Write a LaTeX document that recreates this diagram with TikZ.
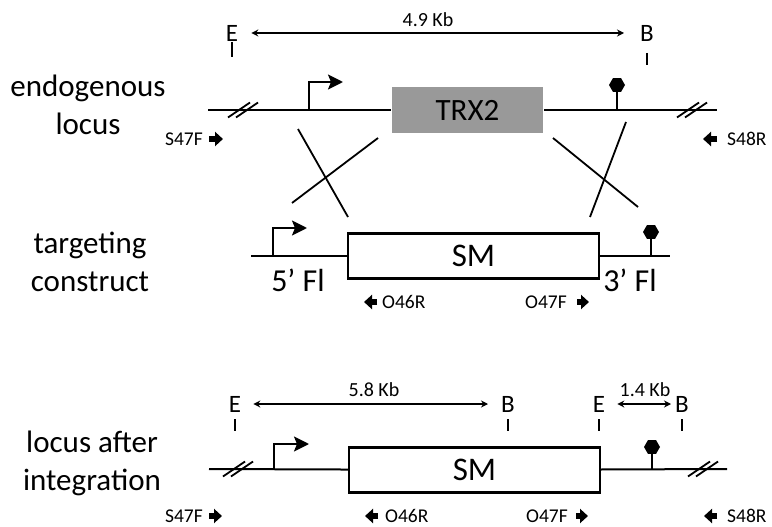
\documentclass[tikz,border=0pt]{standalone}
\usepackage{fontspec}
\setmainfont{Carlito}
\usetikzlibrary{arrows.meta, positioning, shapes.geometric}

\tikzset{
    dna/.style={line width=2pt},
    gene/.style={draw, line width=2.2pt, fill=white, inner sep=0pt,
        minimum width=251pt, minimum height=45pt, font=\fontsize{33}{33}\selectfont},
    promoter/.style={line width=2pt, -{Stealth[length=15pt, width=15pt, inset=3pt]}},
    term/.style={regular polygon, regular polygon sides=6, fill, inner sep=0pt, minimum size=16pt},
    site/.style={font=\fontsize{25}{25}\selectfont, inner sep=0pt},
    cut/.style={line width=1.6pt},
    span/.style={line width=1.3pt, {Stealth[length=7pt, width=7pt]}-{Stealth[length=7pt, width=7pt]}},
    kb/.style={font=\fontsize{20}{20}\selectfont, inner sep=0pt},
    primer/.style={line width=6pt, -{Triangle[length=8pt, width=14pt]}},
    primername/.style={font=\fontsize{19.5}{19.5}\selectfont, inner sep=0pt},
    flank/.style={font=\fontsize{32}{32}\selectfont, inner sep=0pt},
    tag/.style={font=\fontsize{31}{38}\selectfont, align=center, inner sep=0pt},
    swap/.style={line width=1.8pt},
    brk/.style={line width=1.8pt}
}

\begin{document}
\begin{tikzpicture}[x=1pt, y=-1pt]
    \useasboundingbox (0,0) rectangle (772,527);

    % row labels
    \node[tag] (endo) at (88,105) {endogenous\\locus};
    \node[tag] (targ) at (90,262) {targeting\\construct};
    \node[tag] (integ) at (92,463) {locus after\\integration};

    % endogenous locus
    \node[gene, fill=black!40, draw=none, minimum width=151pt, minimum height=46pt,
        font=\fontsize{31}{31}\selectfont] (trx) at (467.5,110) {TRX2};
    \coordinate (l1) at (208,110);
    \coordinate (r1) at (717,110);
    \draw[dna] (l1) -- (trx) -- (r1);
    \draw[promoter] (309,110) |- ++(34,-28);
    \node[term] (t1) at (617,85) {};
    \draw[dna] (617,110) -- (t1);

    \node[site] (e1) at (232,33) {E};
    \node[site] (b1) at (647,33) {B};
    \draw[cut] (232,42) -- (232,57);
    \draw[cut] (647,53) -- (647,65);
    \draw[span, shorten <=13pt, shorten >=16pt] (e1.east) -- (b1.west);
    \node[kb] (kb1) at (428,20) {4.9 Kb};

    \coordinate (s47f1) at (209,139);
    \coordinate (s48r1) at (717,139);
    \draw[primer] (s47f1) -- ++(14,0);
    \draw[primer] (s48r1) -- ++(-14,0);
    \node[primername] (s47fn1) [left=6pt of s47f1] {S47F};
    \node[primername] (s48rn1) [right=10pt of s48r1] {S48R};

    % crossing over
    \draw[swap] (298,129) -- (348,217);
    \draw[swap] (378,138) -- (292,203);
    \draw[swap] (553,138) -- (638,207);
    \draw[swap] (626,122) -- (590,217);

    % targeting construct
    \node[gene] (sm1) at (473.5,256) {SM};
    \coordinate (l2) at (251,256);
    \coordinate (r2) at (670,256);
    \draw[dna] (l2) -- (sm1) -- (r2);
    \draw[promoter] (273,256) |- ++(34,-28);
    \node[term] (t2) at (651,232) {};
    \draw[dna] (651,256) -- (t2);
    \node[flank] (fl5) at (298,280) {5’ Fl};
    \node[flank] (fl3) at (630,280) {3’ Fl};

    \coordinate (o46r1) at (377,302);
    \coordinate (o47f1) at (577,302);
    \draw[primer] (o46r1) -- ++(-13,0);
    \draw[primer] (o47f1) -- ++(12,0);
    \node[primername] (o46rn1) [right=5pt of o46r1] {O46R};
    \node[primername] (o47fn1) [left=10pt of o47f1] {O47F};

    % locus after integration
    \node[gene] (sm2) at (474.5,470) {SM};
    \coordinate (l3) at (209,469);
    \coordinate (r3) at (727,469);
    \draw[dna] (l3) -- (sm2) -- (r3);
    \draw[promoter] (274,469) |- ++(35,-25);
    \node[term] (t3) at (652,447) {};
    \draw[dna] (652,469) -- (t3);

    \node[site] (e3a) at (235,404) {E};
    \node[site] (b3a) at (508,404) {B};
    \node[site] (e3b) at (599,404) {E};
    \node[site] (b3b) at (682,404) {B};
    \foreach \x in {235,508,599,682}
        \draw[cut] (\x,419) -- (\x,431);
    \draw[span, shorten <=12pt, shorten >=13pt] (e3a.east) -- (b3a.west);
    \draw[span, shorten <=12pt, shorten >=4pt] (e3b.east) -- (b3b.west);
    \node[kb] (kb3a) at (374,390) {5.8 Kb};
    \node[kb] (kb3b) at (645,390) {1.4 Kb};

    \coordinate (s47f3) at (209,516);
    \coordinate (o46r3) at (378,516);
    \coordinate (o47f3) at (576,516);
    \coordinate (s48r3) at (717,516);
    \draw[primer] (s47f3) -- ++(13,0);
    \draw[primer] (o46r3) -- ++(-13,0);
    \draw[primer] (o47f3) -- ++(12,0);
    \draw[primer] (s48r3) -- ++(-13,0);
    \node[primername] (s47fn3) [left=6pt of s47f3] {S47F};
    \node[primername] (o46rn3) [right=7pt of o46r3] {O46R};
    \node[primername] (o47fn3) [left=8pt of o47f3] {O47F};
    \node[primername] (s48rn3) [right=10pt of s48r3] {S48R};

    % breaks
    \foreach \x/\y in {243/110, 692/110, 238/469, 703/469}
        \draw[brk] (\x-15,\y+7.5) -- ++(22,-15) (\x-7,\y+7.5) -- ++(22,-15);
\end{tikzpicture}
\end{document}
